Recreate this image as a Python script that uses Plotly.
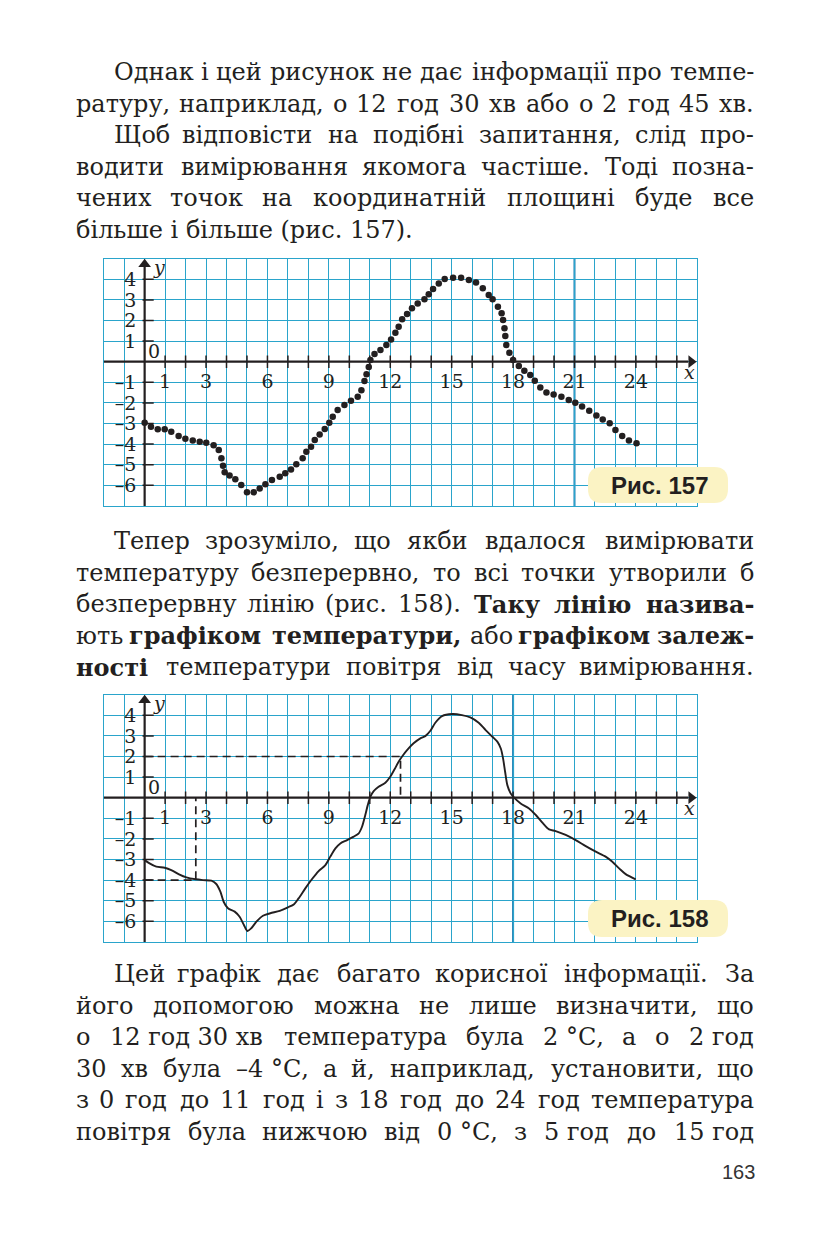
import plotly.graph_objects as go

W, H = 827, 1240

# ---------------- data ----------------
# Fig. 157: measured points (hour, temperature)
dots_hours = [0, 0.31, 0.64, 0.98, 1.30, 1.66, 1.99, 2.35, 2.69, 3.01, 3.37, 3.62, 3.75, 3.83, 3.91,
              4.15, 4.43, 4.72, 5.00, 5.33, 5.62, 5.90, 6.22, 6.60, 6.87, 7.15, 7.41, 7.72, 7.90, 8.13,
              8.31, 8.55, 8.80, 9.02, 9.19, 9.43, 9.76, 10.08, 10.41, 10.59, 10.74, 10.84, 10.95, 11.03,
              11.23, 11.52, 11.81, 12.04, 12.25, 12.41, 12.58, 12.82, 13.06, 13.34, 13.67, 13.88, 14.09,
              14.37, 14.66, 15.07, 15.46, 15.84, 16.19, 16.52, 16.81, 17.00, 17.26, 17.44, 17.51, 17.58,
              17.62, 17.67, 17.82, 18.00, 18.28, 18.55, 18.84, 19.06, 19.33, 19.63, 19.98, 20.36, 20.72,
              21.04, 21.37, 21.72, 22.07, 22.38, 22.72, 23.00, 23.33, 23.66, 24.03]
dots_temp = [-2.96, -3.16, -3.28, -3.28, -3.40, -3.61, -3.74, -3.82, -3.88, -3.93, -4.05, -4.29, -4.69,
             -5.05, -5.37, -5.53, -5.71, -5.99, -6.34, -6.34, -6.15, -5.95, -5.74, -5.58, -5.42, -5.23,
             -4.98, -4.69, -4.37, -4.13, -3.80, -3.53, -3.27, -2.96, -2.67, -2.35, -2.10, -1.89, -1.70,
             -1.38, -0.94, -0.61, -0.26, 0.08, 0.37, 0.57, 0.81, 1.08, 1.41, 1.70, 2.06, 2.31, 2.59, 2.83,
             3.03, 3.27, 3.53, 3.80, 4.01, 4.08, 4.08, 3.96, 3.85, 3.56, 3.24, 3.03, 2.67, 2.35, 2.02,
             1.62, 1.25, 0.81, 0.44, 0.08, -0.21, -0.44, -0.65, -0.92, -1.25, -1.49, -1.59, -1.70, -1.86,
             -1.99, -2.18, -2.38, -2.61, -2.80, -2.99, -3.32, -3.61, -3.83, -3.96]

# Fig. 158: continuous temperature curve (hour, temperature)
curve_hours = [0, 0.24, 0.57, 0.98, 1.30, 1.68, 2.04, 2.49, 2.85, 3.26, 3.50, 3.70, 3.86, 4.07, 4.40,
               4.64, 4.85, 5.02, 5.21, 5.46, 5.78, 6.14, 6.60, 7.00, 7.30, 7.52, 7.85, 8.17, 8.50, 8.83,
               9.07, 9.32, 9.56, 9.89, 10.21, 10.46, 10.62, 10.78, 10.90, 11.03, 11.19, 11.43, 11.76,
               12.00, 12.21, 12.41, 12.57, 12.82, 13.14, 13.47, 13.71, 13.96, 14.20, 14.53, 15.02, 15.50,
               15.91, 16.32, 16.66, 16.99, 17.23, 17.40, 17.51, 17.61, 17.72, 17.88, 18.05, 18.37, 18.78,
               19.11, 19.43, 19.76, 20.08, 20.57, 21.06, 21.55, 22.04, 22.52, 22.85, 23.18, 23.50, 23.99]
curve_temp = [-3.03, -3.19, -3.35, -3.40, -3.51, -3.72, -3.87, -3.96, -4.00, -4.03, -4.19, -4.56, -5.05,
              -5.37, -5.53, -5.78, -6.18, -6.47, -6.34, -6.02, -5.73, -5.61, -5.49, -5.32, -5.17, -4.89,
              -4.40, -3.96, -3.56, -3.27, -2.86, -2.46, -2.22, -2.06, -1.89, -1.73, -1.41, -0.84, -0.36,
              0.05, 0.32, 0.53, 0.73, 1.02, 1.38, 1.75, 1.99, 2.31, 2.64, 2.88, 2.99, 3.25, 3.64, 3.96,
              4.06, 4.01, 3.90, 3.64, 3.28, 2.96, 2.72, 2.39, 1.91, 1.26, 0.61, 0.21, 0.00, -0.28, -0.52,
              -0.84, -1.21, -1.54, -1.62, -1.81, -2.06, -2.35, -2.62, -2.86, -3.11, -3.43, -3.71, -3.96]

# dashed reading lines on Fig. 158 (12 h 30 min -> 2 °C, 2 h 30 min -> -4 °C)
query_hours = [12.5, 2.5]
query_temps = [2, -4]

x_tick_labels = [1, 3, 6, 9, 12, 15, 18, 21, 24]
y_tick_labels = [4, 3, 2, 1, -1, -2, -3, -4, -5, -6]
x_range = [-2, 27]
y_range = [-7, 5]

fig_captions = ["Рис. 157", "Рис. 158"]

para1 = [
    (True, True, [("Однак і цей рисунок не дає інформації про темпе-", False)]),
    (False, True, [("ратуру, наприклад, о 12 год 30 хв або о 2 год 45 хв.", False)]),
    (True, True, [("Щоб відповісти на подібні запитання, слід про-", False)]),
    (False, True, [("водити вимірювання якомога частіше. Тоді позна-", False)]),
    (False, True, [("чених точок на координатній площині буде все", False)]),
    (False, False, [("більше і більше (рис. 157).", False)]),
]
para2 = [
    (True, True, [("Тепер зрозуміло, що якби вдалося вимірювати", False)]),
    (False, True, [("температуру безперервно, то всі точки утворили б", False)]),
    (False, True, [("безперервну лінію (рис. 158).", False), ("Таку лінію назива-", True)]),
    (False, True, [("ють", False), ("графіком температури,", True), ("або", False), ("графіком залеж-", True)]),
    (False, True, [("ності", True), ("температури повітря від часу вимірювання.", False)]),
]
NB = "\u00a0"
para3 = [
    (True, True, [("Цей графік дає багато корисної інформації. За", False)]),
    (False, True, [("його допомогою можна не лише визначити, що", False)]),
    (False, True, [("о 12" + NB + "год" + NB + "30" + NB + "хв температура була 2" + NB + "°С, а о 2" + NB + "год", False)]),
    (False, True, [("30 хв була –4" + NB + "°С, а й, наприклад, установити, що", False)]),
    (False, True, [("з 0 год до 11 год і з 18 год до 24 год температура", False)]),
    (False, True, [("повітря була нижчою від 0" + NB + "°С, з 5" + NB + "год до 15" + NB + "год", False)]),
]
page_number = "163"

# ---------------- styling ----------------
INK = "#231f20"
GRID = "#2aa4cb"
SERIF = "DejaVu Serif"
FS = 24

fig = go.Figure()

charts = [
    dict(xa="x", ya="y", left=103.7, right=697.3, top=258.7, bottom=505.9),
    dict(xa="x2", ya="y2", left=103.7, right=697.3, top=694.7, bottom=941.9),
]

def axis_common():
    return dict(dtick=1, tick0=0, showgrid=True, gridcolor=GRID, gridwidth=1.3,
                zeroline=False, showticklabels=False, ticks="", showline=True, linecolor=GRID,
                linewidth=1.3, mirror=True, fixedrange=True)

layout_axes = {}
for i, c in enumerate(charts):
    sfx = "" if i == 0 else str(i + 1)
    xa = axis_common(); xa.update(range=x_range, domain=[c["left"] / W, c["right"] / W],
                                  anchor="y" + sfx)
    ya = axis_common(); ya.update(range=y_range, domain=[1 - c["bottom"] / H, 1 - c["top"] / H],
                                  anchor="x" + sfx)
    layout_axes["xaxis" + sfx] = xa
    layout_axes["yaxis" + sfx] = ya

shapes = []
annotations = []
TICKF = dict(family=SERIF, size=19, color=INK)

for i, c in enumerate(charts):
    xr, yr = c["xa"], c["ya"]
    dark_x = 21 if i == 0 else 18
    shapes.append(dict(type="line", xref=xr, yref=yr, x0=dark_x, x1=dark_x, y0=y_range[0], y1=y_range[1],
                       line=dict(color="#1f7fb5", width=2), layer="below"))
    shapes.append(dict(type="line", xref=xr, yref=yr, x0=x_range[0], x1=x_range[1] - 0.45, y0=0, y1=0,
                       line=dict(color=INK, width=2.2)))
    shapes.append(dict(type="line", xref=xr, yref=yr, x0=0, x1=0, y0=y_range[0], y1=y_range[1] - 0.4,
                       line=dict(color=INK, width=2.2)))
    fig.add_trace(go.Scatter(x=[x_range[1] - 0.3], y=[0], xaxis=xr, yaxis=yr, mode="markers",
                             marker=dict(symbol="triangle-right", size=11, color=INK), cliponaxis=False,
                             hoverinfo="skip"))
    fig.add_trace(go.Scatter(x=[0], y=[y_range[1] - 0.27], xaxis=xr, yaxis=yr, mode="markers",
                             marker=dict(symbol="triangle-up", size=11, color=INK), cliponaxis=False,
                             hoverinfo="skip"))
    xt = list(range(1, x_range[1]))
    fig.add_trace(go.Scatter(x=xt, y=[0] * len(xt), xaxis=xr, yaxis=yr, mode="markers",
                             marker=dict(symbol="line-ns", size=9, line=dict(color=INK, width=1.5)),
                             hoverinfo="skip"))
    yt = [v for v in range(y_range[0] + 1, y_range[1]) if v != 0]
    fig.add_trace(go.Scatter(x=[0.17] * len(yt), y=yt, xaxis=xr, yaxis=yr, mode="markers",
                             marker=dict(symbol="line-ew", size=8, line=dict(color=INK, width=1.5)),
                             hoverinfo="skip"))
    fig.add_trace(go.Scatter(x=x_tick_labels, y=[-1.05] * len(x_tick_labels), xaxis=xr, yaxis=yr,
                             mode="text", text=[str(v) for v in x_tick_labels], textposition="middle center",
                             textfont=TICKF, hoverinfo="skip"))
    fig.add_trace(go.Scatter(x=[-0.4] * len(y_tick_labels), y=[v - 0.1 for v in y_tick_labels],
                             xaxis=xr, yaxis=yr, mode="text",
                             text=[(str(v) if v >= 0 else "–" + str(-v)) for v in y_tick_labels],
                             textposition="middle left", textfont=TICKF, hoverinfo="skip",
                             cliponaxis=False))
    annotations.append(dict(x=0.45, y=0.5, xref=xr, yref=yr, text="0", showarrow=False, font=TICKF))
    annotations.append(dict(x=26.6, y=-0.52, xref=xr, yref=yr, text="<i>x</i>", showarrow=False,
                            font=dict(family=SERIF, size=19, color=INK)))
    annotations.append(dict(x=0.68, y=4.58, xref=xr, yref=yr, text="<i>y</i>", showarrow=False,
                            font=dict(family=SERIF, size=19, color=INK)))

fig.add_trace(go.Scatter(x=dots_hours, y=dots_temp, xaxis="x", yaxis="y", mode="markers",
                         marker=dict(size=6.5, color=INK), hoverinfo="skip"))
dash_x, dash_y = [], []
for h, t in zip(query_hours, query_temps):
    dash_x += [0, h, h, None]
    dash_y += [t, t, 0, None]
fig.add_trace(go.Scatter(x=dash_x, y=dash_y, xaxis="x2", yaxis="y2", mode="lines",
                         line=dict(color=INK, width=1.7, dash="8px,5px"), hoverinfo="skip"))
fig.add_trace(go.Scatter(x=curve_hours, y=curve_temp, xaxis="x2", yaxis="y2", mode="lines",
                         line=dict(color=INK, width=1.9, shape="spline", smoothing=0.8), hoverinfo="skip"))

def P(px, py):
    return px / W, 1 - py / H

def rounded_path(x0, y0, x1, y1, r):
    def p(x, y):
        a, b = P(x, y)
        return f"{a:.5f},{b:.5f}"
    return (f"M {p(x0 + r, y0)} L {p(x1 - r, y0)} Q {p(x1, y0)} {p(x1, y0 + r)} "
            f"L {p(x1, y1 - r)} Q {p(x1, y1)} {p(x1 - r, y1)} L {p(x0 + r, y1)} "
            f"Q {p(x0, y1)} {p(x0, y1 - r)} L {p(x0, y0 + r)} Q {p(x0, y0)} {p(x0 + r, y0)} Z")

cap_boxes = [(588, 467, 728, 503), (588, 900, 728, 937)]
for (x0, y0, x1, y1), cap in zip(cap_boxes, fig_captions):
    shapes.append(dict(type="path", xref="paper", yref="paper", path=rounded_path(x0, y0, x1, y1, 14),
                       fillcolor="#fbf3c4", line=dict(width=0), layer="above"))
    cx, cy = P((x0 + x1) / 2 + 2, (y0 + y1) / 2)
    annotations.append(dict(x=cx, y=cy, xref="paper", yref="paper", text="<b>" + cap + "</b>",
                            showarrow=False, xanchor="center", yanchor="middle",
                            font=dict(family="Liberation Sans", size=24, color=INK)))

# ---------------- justified body text ----------------
CW = {
    "а": .596, "б": .615, "в": .60, "г": .53, "д": .68, "е": .592, "є": .56, "ж": .88, "з": .53,
    "и": .66, "і": .32, "ї": .32, "й": .66, "к": .62, "л": .65, "м": .78, "н": .66, "о": .602,
    "п": .66, "р": .64, "с": .555, "т": .58, "у": .57, "ф": .82, "х": .58, "ц": .67, "ч": .63,
    "ш": .93, "щ": .94, "ь": .60, "ю": .86, "я": .62, " ": .318, NB: .318, ",": .318, ".": .318,
    "(": .39, ")": .39, "-": .338, "°": .5, "–": .5, "О": .78, "Щ": 1.0, "Т": .67, "Ц": .77,
    "С": .72, "Р": .68,
}
def word_w(word, bold):
    w = 0
    for ch in word:
        if ch.isdigit():
            w += .636
        else:
            w += CW.get(ch, .6 if ch.islower() else .72)
    w *= FS
    return w * 1.17 if bold else w

LEFT, INDENT, RIGHT = 75, 113, 755
LINE_H = 31.6

def add_par(par, y_first):
    for k, (indent, justify, segs) in enumerate(par):
        y = y_first + k * LINE_H
        x0 = INDENT if indent else LEFT
        if not justify:
            txt = "".join(("<b>%s</b>" % s if b else s) for s, b in segs)
            ax, ay = P(x0, y)
            annotations.append(dict(x=ax, y=ay, xref="paper", yref="paper", text=txt, showarrow=False,
                                    xanchor="left", yanchor="middle", borderpad=0,
                                    font=dict(family=SERIF, size=FS, color=INK)))
            continue
        words = []
        for s, b in segs:
            for w in s.split(" "):
                if w:
                    words.append((w, b, word_w(w, b)))
        total = sum(w[2] for w in words)
        gap = (RIGHT - x0 - total) / max(len(words) - 1, 1)
        cur = x0
        for j, (w, b, ww) in enumerate(words):
            if j == 0:
                xpos, anc = x0, "left"
            elif j == len(words) - 1:
                xpos, anc = RIGHT, "right"
            else:
                xpos, anc = cur + ww / 2, "center"
            cur += ww + gap
            ax, ay = P(xpos, y)
            annotations.append(dict(x=ax, y=ay, xref="paper", yref="paper",
                                    text=("<b>%s</b>" % w if b else w), showarrow=False,
                                    xanchor=anc, yanchor="middle", borderpad=0,
                                    font=dict(family=SERIF, size=FS, color=INK)))

add_par(para1, 72)
add_par(para2, 541)
add_par(para3, 974)

ax, ay = P(757, 1172)
annotations.append(dict(x=ax, y=ay, xref="paper", yref="paper", text=page_number, showarrow=False,
                        xanchor="right", yanchor="middle",
                        font=dict(family="Liberation Sans", size=20, color="#333333")))

fig.update_layout(width=W, height=H, margin=dict(l=0, r=0, t=0, b=0), paper_bgcolor="white",
                  plot_bgcolor="white", showlegend=False, shapes=shapes, annotations=annotations,
                  **layout_axes)
fig.write_html("out.html", config={"displayModeBar": False})
